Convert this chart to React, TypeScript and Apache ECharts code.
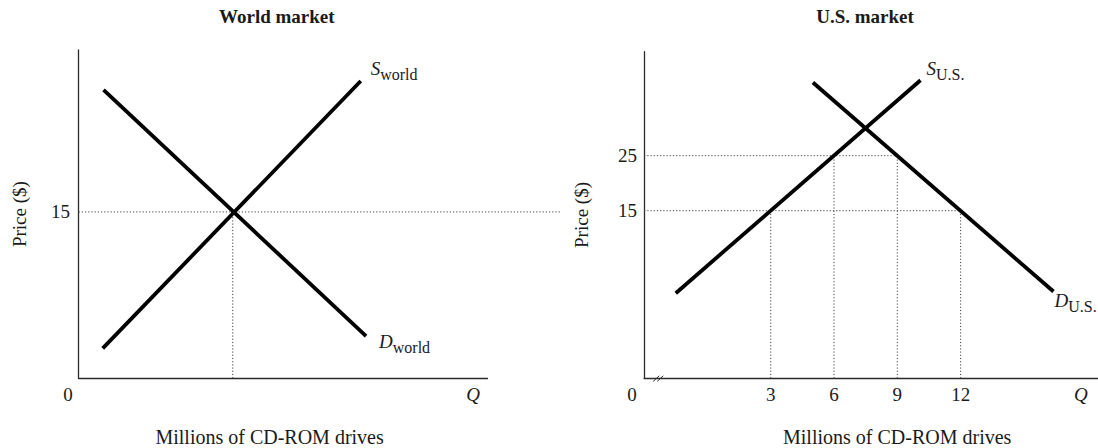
import React, { useEffect, useRef } from "react";
import * as echarts from "echarts";

const FONT = "'Liberation Serif', 'DejaVu Serif', serif";

// ---------- World market (left panel) ----------
const worldSupply: number[][] = [[5.9, 2.7], [69.0, 26.8]];
const worldDemand: number[][] = [[6.1, 26.0], [70.3, 3.8]];
const worldEqPrice = 15;
const worldEqQty = 37.7;
const worldPriceTicks = [15];
const worldQEnd = 96.5; // where the "Q" label sits
const worldDottedEnd = 117.7; // dotted price line runs past the axis

// ---------- U.S. market (right panel) ----------
const usSupply: number[][] = [[-1.5, 0], [10.1, 38.7]];
const usDemand: number[][] = [[5.0, 38.3], [16.4, 0.3]];
const usPriceTicks = [15, 25];
const usQtyTicks = [3, 6, 9, 12];
// quantity read at each price: [qty, price]
const usGuides: number[][] = [[3, 15], [6, 25], [9, 25], [12, 15]];
const usQEnd = 17.7;

const usXMin = -3;
const usXMax = 18.51;
const usYMin = -15.47;
const usYMax = 43.9;

const worldXMax = 100;
const worldYMax = 29.6;

const TXT = "#1a1a1a";
const axisLine = { show: true, onZero: false, lineStyle: { color: "#2a2a2a", width: 1.3 } };
const dotted = { color: "#444", width: 1, type: [1.2, 2] as number[] };
const curve = { color: "#000", width: 3.8, cap: "butt" as const };

const subRich = (letter: string, sub: string) => ({
  formatter: () => `{s|${letter}}{sub|${sub}}`,
  rich: {
    s: { fontFamily: FONT, fontSize: 19, fontStyle: "italic", color: TXT, lineHeight: 20 },
    sub: { fontFamily: FONT, fontSize: 16, color: TXT, lineHeight: 16, padding: [12, 0, 0, 0] },
  },
});

export default function App() {
  const ref = useRef<HTMLDivElement>(null);

  useEffect(() => {
    if (!ref.current) return;
    const chart = echarts.init(ref.current, undefined, { renderer: "svg" });

    const tickLabel = { fontFamily: FONT, fontSize: 19, color: TXT };
    const leftPxPerUnit = 408.9 / worldXMax;

    const option: any = {
      animation: false,
      backgroundColor: "#fff",
      grid: [
        { left: 78.6, top: 50, width: 408.9, height: 328.3, outerBoundsMode: "none", containLabel: false },
        { left: 644.1, top: 51.7, right: 0, height: 326.6, outerBoundsMode: "none", containLabel: false },
        // hidden companion of the left grid, wider, for the dotted price line
        { left: 78.6, top: 50, width: worldDottedEnd * leftPxPerUnit, height: 328.3, outerBoundsMode: "none", containLabel: false },
      ],
      xAxis: [
        {
          gridIndex: 0,
          type: "value",
          min: 0,
          max: worldXMax,
          axisLine,
          axisTick: { show: false },
          splitLine: { show: false },
          axisLabel: {
            customValues: [0, worldQEnd],
            margin: 7,
            formatter: (v: number) => (v === 0 ? "{o|0}" : "{q|Q}"),
            rich: {
              o: { ...tickLabel, padding: [0, 21, 0, 0] },
              q: { ...tickLabel, fontStyle: "italic" },
            },
          },
        },
        {
          gridIndex: 1,
          type: "value",
          min: usXMin,
          max: usXMax,
          axisLine,
          axisTick: { show: false },
          splitLine: { show: false },
          axisLabel: {
            customValues: [usXMin, ...usQtyTicks, usQEnd],
            margin: 7,
            formatter: (v: number) =>
              v === usXMin ? "{o|0}" : v === usQEnd ? "{q|Q}" : `{n|${v}}`,
            rich: {
              o: { ...tickLabel, padding: [0, 24, 0, 0] },
              q: { ...tickLabel, fontStyle: "italic" },
              n: { ...tickLabel },
            },
          },
        },
        { gridIndex: 2, type: "value", min: 0, max: worldDottedEnd, show: false },
      ],
      yAxis: [
        {
          gridIndex: 0,
          type: "value",
          min: 0,
          max: worldYMax,
          axisLine,
          axisTick: { show: false },
          splitLine: { show: false },
          axisLabel: { customValues: worldPriceTicks, margin: 8.6, ...tickLabel },
          name: "Price ($)",
          nameLocation: "middle",
          nameGap: 49.5,
          nameTextStyle: { ...tickLabel },
        },
        {
          gridIndex: 1,
          type: "value",
          min: usYMin,
          max: usYMax,
          axisLine,
          axisTick: { show: false },
          splitLine: { show: false },
          axisLabel: { customValues: usPriceTicks, margin: 7, ...tickLabel },
          name: "Price ($)",
          nameLocation: "middle",
          nameGap: 53.3,
          nameTextStyle: { ...tickLabel },
        },
        { gridIndex: 2, type: "value", min: 0, max: worldYMax, show: false },
      ],
      series: [
        // world guides
        {
          type: "line", xAxisIndex: 2, yAxisIndex: 2, symbol: "none", silent: true,
          lineStyle: dotted,
          data: [[0, worldEqPrice], [worldDottedEnd, worldEqPrice]],
        },
        {
          type: "line", xAxisIndex: 0, yAxisIndex: 0, symbol: "none", silent: true,
          lineStyle: dotted,
          data: [[worldEqQty, 0], [worldEqQty, worldEqPrice]],
        },
        // US guides: vertical from axis to price, horizontal from axis to qty
        ...usGuides.map(([q, p]) => ({
          type: "line", xAxisIndex: 1, yAxisIndex: 1, symbol: "none", silent: true,
          lineStyle: dotted,
          data: [[q, usYMin], [q, p]],
        })),
        ...usPriceTicks.map((p) => ({
          type: "line", xAxisIndex: 1, yAxisIndex: 1, symbol: "none", silent: true,
          lineStyle: dotted,
          data: [[usXMin, p], [Math.max(...usGuides.filter((g) => g[1] === p).map((g) => g[0])), p]],
        })),
        // curves
        {
          type: "line", xAxisIndex: 0, yAxisIndex: 0, symbol: "none", lineStyle: curve,
          data: worldSupply,
          endLabel: { show: true, offset: [2, -13], ...subRich("S", "world") },
        },
        {
          type: "line", xAxisIndex: 0, yAxisIndex: 0, symbol: "none", lineStyle: curve,
          data: worldDemand,
          endLabel: { show: true, offset: [5, 5], ...subRich("D", "world") },
        },
        {
          type: "line", xAxisIndex: 1, yAxisIndex: 1, symbol: "none", lineStyle: curve,
          data: usSupply,
          endLabel: { show: true, offset: [-2, -12], ...subRich("S", "U.S.") },
        },
        {
          type: "line", xAxisIndex: 1, yAxisIndex: 1, symbol: "none", lineStyle: curve,
          data: usDemand,
          endLabel: { show: true, offset: [-7, 9], ...subRich("D", "U.S.") },
        },
      ],
    };

    chart.setOption(option);

    const brk = chart.convertToPixel({ gridIndex: 1 } as any, [-2.33, usYMin]) as number[];
    const titleFont = `bold 19px ${FONT}`;
    const nameFont = `20px ${FONT}`;
    chart.setOption({
      graphic: [
        { type: "text", x: 276.8, y: 16, style: { text: "World market", font: titleFont, fill: TXT, align: "center", verticalAlign: "middle" } },
        { type: "text", x: 865, y: 16, style: { text: "U.S. market", font: titleFont, fill: TXT, align: "center", verticalAlign: "middle" } },
        { type: "text", x: 269.6, y: 437, style: { text: "Millions of CD-ROM drives", font: nameFont, fill: TXT, align: "center", verticalAlign: "middle" } },
        { type: "text", x: 897.2, y: 437, style: { text: "Millions of CD-ROM drives", font: nameFont, fill: TXT, align: "center", verticalAlign: "middle" } },
        { type: "line", shape: { x1: brk[0] - 5, y1: brk[1] + 3, x2: brk[0] + 1, y2: brk[1] - 2.5 }, style: { stroke: "#2a2a2a", lineWidth: 1 } },
        { type: "line", shape: { x1: brk[0] - 1, y1: brk[1] + 3, x2: brk[0] + 5, y2: brk[1] - 2.5 }, style: { stroke: "#2a2a2a", lineWidth: 1 } },
      ],
    });

    return () => chart.dispose();
  }, []);

  return (
    <div
      ref={ref}
      style={{ position: "fixed", left: 0, top: 0, width: 1098, height: 448, background: "#fff" }}
    />
  );
}
